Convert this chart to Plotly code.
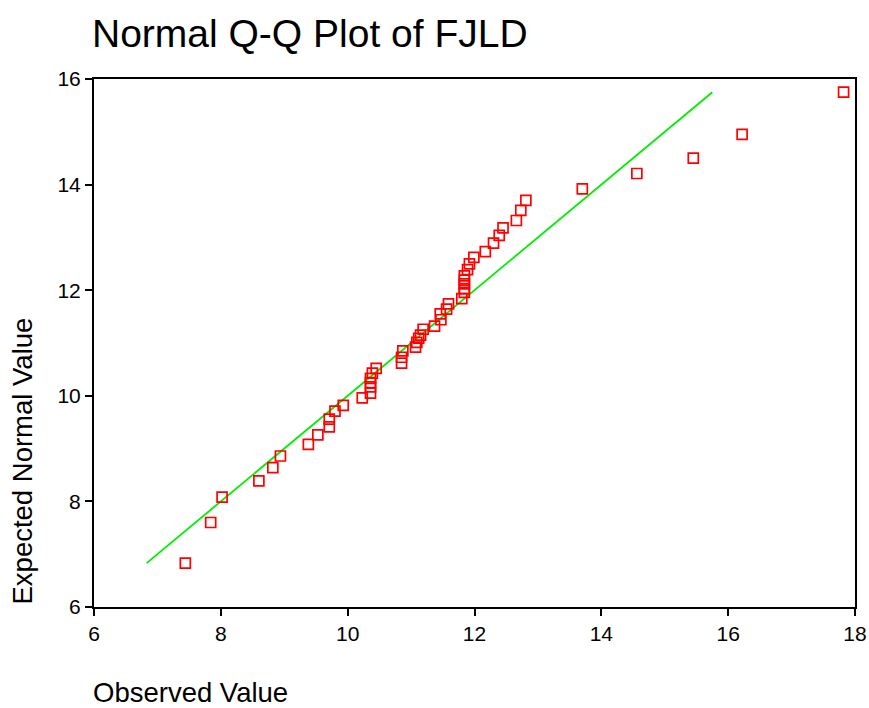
import plotly.graph_objects as go

observed = [7.44, 7.84, 8.02, 8.60, 8.82, 8.94, 9.38, 9.53, 9.71, 9.71,
            9.80, 9.93, 10.23, 10.36, 10.36, 10.36, 10.36, 10.39, 10.45, 10.85,
            10.85, 10.87, 11.07, 11.09, 11.12, 11.15, 11.19, 11.37, 11.47, 11.46,
            11.56, 11.59, 11.80, 11.84, 11.84, 11.84, 11.84, 11.84, 11.89, 11.92,
            11.99, 12.17, 12.30, 12.39, 12.45, 12.66, 12.73, 12.81, 13.70, 14.56,
            15.45, 16.22, 17.82]
expected = [6.83, 7.60, 8.08, 8.39, 8.64, 8.86, 9.08, 9.26, 9.41, 9.56,
            9.71, 9.82, 9.96, 10.05, 10.17, 10.25, 10.33, 10.43, 10.52, 10.62,
            10.73, 10.85, 10.92, 11.01, 11.09, 11.15, 11.26, 11.32, 11.44, 11.55,
            11.64, 11.74, 11.84, 11.96, 12.03, 12.12, 12.19, 12.27, 12.39, 12.50,
            12.62, 12.73, 12.89, 13.04, 13.18, 13.32, 13.51, 13.70, 13.92, 14.21,
            14.50, 14.95, 15.75]

x_ticks = [6, 8, 10, 12, 14, 16, 18]
y_ticks = [6, 8, 10, 12, 14, 16]

line_range = [min(expected), max(expected)]

FONT = "Liberation Sans, Arial, sans-serif"

fig = go.Figure()
fig.add_trace(go.Scatter(
    x=line_range, y=line_range, mode="lines",
    line=dict(color="#00EE00", width=1.8),
    hoverinfo="skip", showlegend=False))
fig.add_trace(go.Scatter(
    x=observed, y=expected, mode="markers",
    marker=dict(symbol="square-open", size=10, color="#FF0000",
                line=dict(color="#FF0000", width=1.7)),
    showlegend=False))

axis_common = dict(
    showgrid=False, zeroline=False, automargin=False,
    showline=True, linecolor="black", linewidth=2, mirror=True,
    ticks="outside", ticklen=7, tickwidth=1.5, tickcolor="black",
    tickfont=dict(family=FONT, size=21, color="black"),
)

fig.update_layout(
    width=869, height=708,
    margin=dict(l=94, r=14, t=79, b=101),
    paper_bgcolor="white", plot_bgcolor="white",
    font=dict(family=FONT, color="black"),
    title=dict(text="Normal Q-Q Plot of FJLD", xref="container", x=92/869,
               xanchor="left", yref="container", y=1 - 33/708, yanchor="middle",
               font=dict(family=FONT, size=39, color="black")),
    xaxis=dict(range=[6, 18], tickvals=x_ticks, **axis_common),
    yaxis=dict(range=[6, 16], tickvals=y_ticks, **axis_common),
    annotations=[
        dict(text="Observed Value", xref="paper", yref="paper", x=0, y=0,
             xanchor="left", yanchor="middle", yshift=-85, xshift=-3,
             showarrow=False, font=dict(family=FONT, size=27.5, color="black")),
        dict(text="Expected Normal Value", xref="paper", yref="paper", x=0, y=0,
             xanchor="center", yanchor="bottom", xshift=-72, textangle=-90,
             showarrow=False, font=dict(family=FONT, size=27.5, color="black")),
    ],
)

fig.write_html(
    "out.html",
    config={"responsive": False, "displayModeBar": False},
    post_script="document.body.style.margin='0';document.body.style.overflow='hidden';",
)
